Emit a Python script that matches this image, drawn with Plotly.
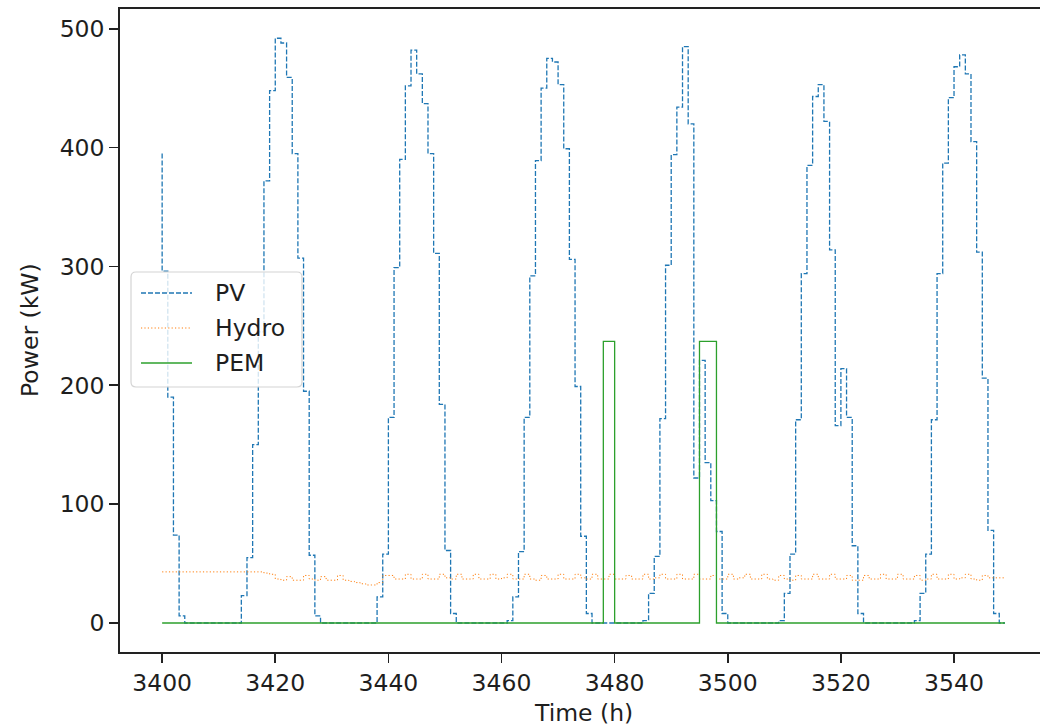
import plotly.graph_objects as go

hours = list(range(3400, 3550))

pv = [
    395, 296, 190, 74, 6,
    0, 0, 0, 0, 0, 0, 0, 0, 0, 0,
    23, 55, 150, 245, 372, 448, 492, 488, 459, 395, 307, 195, 57, 6,
    0, 0, 0, 0, 0, 0, 0, 0, 0, 0,
    22, 58, 173, 299, 390, 452, 482, 462, 437, 395, 311, 184, 61, 8,
    0, 0, 0, 0, 0, 0, 0, 0, 0,
    2, 22, 60, 173, 292, 389, 450, 475, 472, 453, 399, 306, 199, 73, 8,
    0, 0, 0, 0, 0, 0, 0, 0, 0,
    2, 25, 56, 172, 301, 394, 434, 485, 420, 122, 221, 135, 103, 77, 8,
    0, 0, 0, 0, 0, 0, 0, 0, 0,
    2, 25, 58, 171, 294, 385, 443, 453, 422, 314, 166, 214, 173, 65, 8,
    0, 0, 0, 0, 0, 0, 0, 0, 0,
    2, 25, 58, 171, 294, 387, 442, 468, 478, 462, 405, 312, 206, 78, 8,
    0,
]

hydro = [
    43, 43, 43, 43, 43, 43, 43, 43, 43, 43,
    43, 43, 43, 43, 43, 43, 43, 43, 43, 42,
    41, 37, 36, 39, 36, 36, 40, 37, 36, 39,
    36, 36, 40, 36, 35, 34, 33, 32, 32, 34,
    40, 40, 37, 37, 41, 37, 37, 41, 37, 37,
    41, 38, 37, 41, 37, 37, 41, 37, 37, 41,
    37, 38, 41, 37, 37, 41, 37, 36, 40, 37,
    37, 41, 37, 37, 41, 38, 37, 41, 37, 37,
    41, 37, 37, 40, 37, 37, 41, 37, 38, 41,
    37, 37, 41, 37, 37, 41, 37, 37, 40, 37,
    37, 41, 37, 38, 41, 37, 37, 41, 37, 36,
    40, 37, 36, 40, 37, 37, 41, 37, 37, 41,
    37, 37, 40, 36, 36, 40, 37, 37, 41, 37,
    37, 41, 37, 37, 40, 36, 37, 41, 37, 37,
    41, 37, 38, 41, 37, 36, 40, 38, 38, 38,
]

pem = [
    0, 0, 0, 0, 0, 0, 0, 0, 0, 0,
    0, 0, 0, 0, 0, 0, 0, 0, 0, 0,
    0, 0, 0, 0, 0, 0, 0, 0, 0, 0,
    0, 0, 0, 0, 0, 0, 0, 0, 0, 0,
    0, 0, 0, 0, 0, 0, 0, 0, 0, 0,
    0, 0, 0, 0, 0, 0, 0, 0, 0, 0,
    0, 0, 0, 0, 0, 0, 0, 0, 0, 0,
    0, 0, 0, 0, 0, 0, 0, 0, 0, 237,
    237, 0, 0, 0, 0, 0, 0, 0, 0, 0,
    0, 0, 0, 0, 0, 0, 237, 237, 237, 0,
    0, 0, 0, 0, 0, 0, 0, 0, 0, 0,
    0, 0, 0, 0, 0, 0, 0, 0, 0, 0,
    0, 0, 0, 0, 0, 0, 0, 0, 0, 0,
    0, 0, 0, 0, 0, 0, 0, 0, 0, 0,
    0, 0, 0, 0, 0, 0, 0, 0, 0, 0,
]

series_names = ["PV", "Hydro", "PEM"]
series_colors = ["#1f77b4", "#ff7f0e", "#2ca02c"]
series_dash = ["5px,2px", "1.2px,2.2px", "solid"]
series_width = [1.3, 1.0, 1.3]

x_ticks = [3400, 3420, 3440, 3460, 3480, 3500, 3520, 3540]
y_ticks = [0, 100, 200, 300, 400, 500]
x_title = "Time (h)"
y_title = "Power (kW)"

FONT = "DejaVu Sans"
TXT = "#1e1e1e"
FS = 23.5

W, H = 1040, 727
L, R, T, B = 120, 0, 9, 75
PW, PH = W - L - R, H - T - B


def px2x(px):
    return (px - L) / PW


def px2y(py):
    return (H - B - py) / PH


fig = go.Figure()
for name, ys, col, dsh, wd in zip(series_names, [pv, hydro, pem], series_colors, series_dash, series_width):
    fig.add_trace(go.Scatter(x=hours, y=ys, name=name, mode="lines", showlegend=False,
                             line=dict(color=col, width=wd, dash=dsh, shape="vh")))

# matplotlib-like legend box (rounded frame), handles and labels
bx0, bx1, by0, by1, rr = 131, 302, 272, 387, 5
x0, x1, y0, y1 = px2x(bx0), px2x(bx1), px2y(by0), px2y(by1)
rx, ry = rr / PW, rr / PH
path = (f"M {x0+rx},{y0} L {x1-rx},{y0} Q {x1},{y0} {x1},{y0-ry} "
        f"L {x1},{y1+ry} Q {x1},{y1} {x1-rx},{y1} L {x0+rx},{y1} "
        f"Q {x0},{y1} {x0},{y1+ry} L {x0},{y0-ry} Q {x0},{y0} {x0+rx},{y0} Z")
shapes = [dict(type="path", path=path, xref="paper", yref="paper",
               fillcolor="rgba(255,255,255,0.8)", line=dict(color="#d4d4d4", width=1.2), layer="above")]
annotations = []
entry_y = [293, 328, 363]
for name, col, dsh, wd, ey in zip(series_names, series_colors, series_dash, series_width, entry_y):
    shapes.append(dict(type="line", xref="paper", yref="paper",
                       x0=px2x(141), x1=px2x(192), y0=px2y(ey), y1=px2y(ey),
                       line=dict(color=col, width=wd, dash=dsh), layer="above"))
    annotations.append(dict(text=name, xref="paper", yref="paper", x=px2x(213), y=px2y(ey),
                            xanchor="left", yanchor="middle", showarrow=False,
                            font=dict(family=FONT, size=FS, color=TXT)))

# axis titles
annotations.append(dict(text=x_title, xref="paper", yref="paper", x=px2x(583), y=px2y(713),
                        xanchor="center", yanchor="middle", showarrow=False,
                        font=dict(family=FONT, size=FS, color=TXT)))
annotations.append(dict(text=y_title, xref="paper", yref="paper", x=px2x(30), y=px2y(330),
                        xanchor="center", yanchor="middle", showarrow=False, textangle=-90,
                        font=dict(family=FONT, size=FS, color=TXT)))

fig.update_layout(
    width=W, height=H,
    margin=dict(l=L, r=R, t=T, b=B, autoexpand=False),
    paper_bgcolor="white", plot_bgcolor="white",
    font=dict(family=FONT, size=FS, color=TXT),
    showlegend=False,
    shapes=shapes,
    annotations=annotations,
)
fig.update_xaxes(
    range=[3392.55, 3555.2], tickvals=x_ticks, ticktext=[str(v) for v in x_ticks],
    showgrid=False, zeroline=False, showline=True, linecolor="#222222", linewidth=1.8,
    mirror=True, ticks="outside", ticklen=9, tickwidth=1.6, tickcolor="#222222",
    automargin=False,
    tickfont=dict(family=FONT, size=FS, color=TXT),
)
fig.update_yaxes(
    range=[-24.4, 516.6], tickvals=y_ticks, ticktext=[str(v) for v in y_ticks],
    showgrid=False, zeroline=False, showline=True, linecolor="#222222", linewidth=1.8,
    mirror=False, ticks="outside", ticklen=9, tickwidth=1.6, tickcolor="#222222",
    automargin=False,
    tickfont=dict(family=FONT, size=FS, color=TXT),
)

# remove the browser's default page margin so the figure sits at the window's top-left corner
page_fix = ("document.body.style.margin='0';document.body.style.padding='0';"
            "document.body.style.overflow='hidden';")
fig.write_html("out.html", post_script=page_fix,
               config={"displayModeBar": False, "staticPlot": True})
